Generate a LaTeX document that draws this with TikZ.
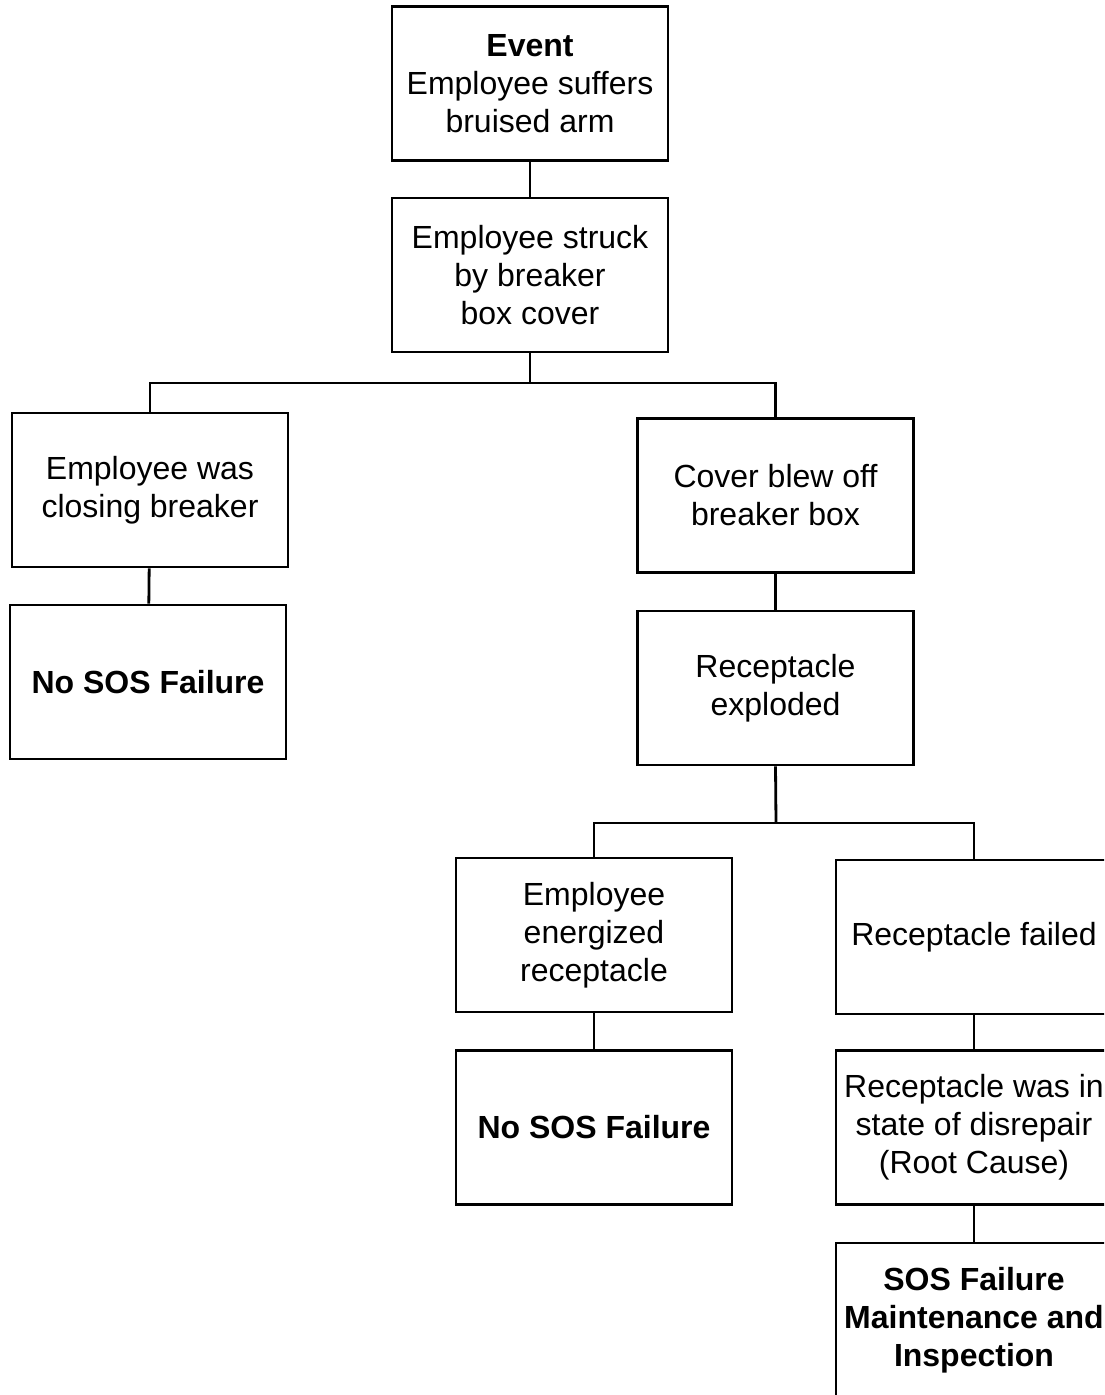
\documentclass[tikz,border=0pt]{standalone}
\usepackage{fontspec}
\setmainfont{Liberation Sans}
\usepackage{tikz}
\usetikzlibrary{calc}

\tikzset{
    causebox/.style={draw, line width=1.4pt, minimum width=138pt, minimum height=77pt,
        inner sep=2pt, align=center, font=\fontsize{16}{19}\selectfont},
    link/.style={line width=1.4pt}
}

\begin{document}
\begin{tikzpicture}[x=0.5pt,y=-0.5pt]
    \useasboundingbox (0,0) rectangle (1104,1395);
    \clip (0,0) rectangle (1104,1395);
    % top of the chain
    \node [causebox] (event) at (530,83.5) {\textbf{Event}\\Employee suffers\\bruised arm};
    \node [causebox] (struck) at (530,275) {Employee struck\\by breaker\\box cover};
    % left branch
    \node [causebox] (closing) at (150,490) {Employee was\\closing breaker};
    \node [causebox] (nofailA) at (148,682) {\textbf{No SOS Failure}};
    % right branch
    \node [causebox] (cover) at (775.5,495.5) {Cover blew off\\breaker box};
    \node [causebox] (exploded) at (775.5,688) {Receptacle\\exploded};
    \node [causebox] (energized) at (594,935) {Employee\\energized\\receptacle};
    \node [causebox] (nofailB) at (594,1127.5) {\textbf{No SOS Failure}};
    \node [causebox] (failed) at (974,937) {Receptacle failed};
    \node [causebox] (disrepair) at (974,1127.5) {Receptacle was in\\state of disrepair\\(Root Cause)};
    \node [causebox] (sosfail) at (974,1320) {\textbf{SOS Failure}\\\textbf{Maintenance and}\\\textbf{Inspection}};
%    \draw[step=50,gray,very thin] (0,0) grid (1104,1395);
    \coordinate (splitA) at (530,383);
    \coordinate (splitB) at (776,823);
    \draw [link] (event) -- (struck);
    \draw [link] (struck.south) -- (splitA);
    \draw [link] (closing.north) |- (splitA) -| (cover.north);
    \draw [link] (closing) -- (nofailA);
    \draw [link] (cover) -- (exploded);
    \draw [link] (exploded.south) -- (splitB);
    \draw [link] (energized.north) |- (splitB) -| (failed.north);
    \draw [link] (energized) -- (nofailB);
    \draw [link] (failed) -- (disrepair);
    \draw [link] (disrepair) -- (sosfail);
\end{tikzpicture}
\end{document}
